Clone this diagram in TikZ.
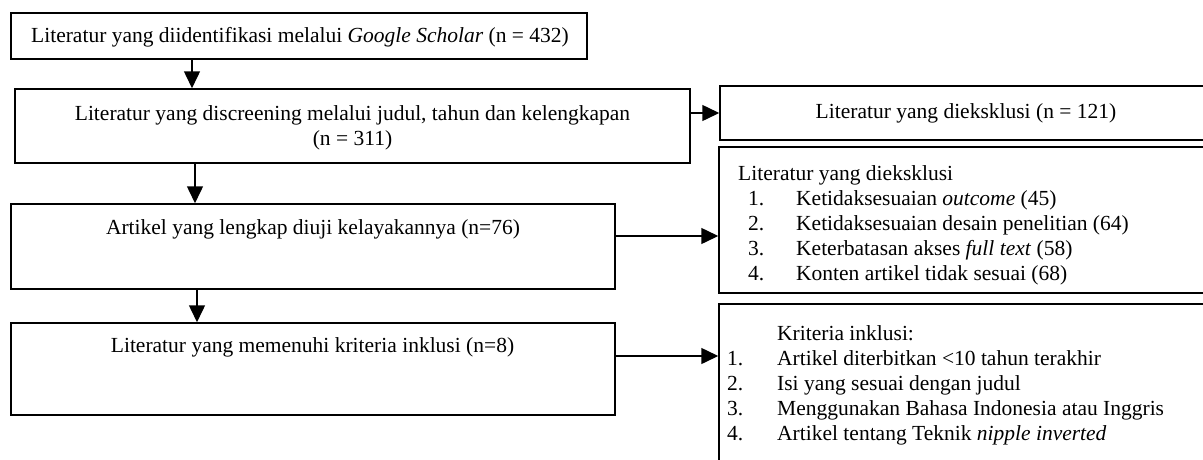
\documentclass[tikz,border=0pt]{standalone}
\usepackage{fontspec}
\setmainfont{Liberation Serif}
\usetikzlibrary{arrows.meta}
\tikzset{
  box/.style={draw, line width=1.5pt, inner sep=0pt},
  txt/.style={inner sep=0pt, align=center},
  lst/.style={inner sep=0pt, align=left, anchor=north west},
  arr/.style={-{Triangle[length=17pt,width=16pt]}, line width=1.5pt}
}
\begin{document}
\begin{tikzpicture}[x=1pt,y=-1pt,font=\fontsize{21.5}{25}\selectfont]
      \useasboundingbox (0,0) rectangle (1203,459);
      \clip (0,0) rectangle (1203,459);
      \draw
        (299,36) node[box, minimum width=576pt, minimum height=46pt] (id){}
        (352.5,126) node[box, minimum width=675pt, minimum height=74pt] (screen){}
        (313,246.5) node[box, minimum width=604pt, minimum height=85pt] (elig){}
        (313,369) node[box, minimum width=604pt, minimum height=92pt] (incl){}
        (966,113) node[box, minimum width=492pt, minimum height=54pt] (excla){}
        (965.5,220) node[box, minimum width=493pt, minimum height=146pt] (exclb){}
        (965.5,394) node[box, minimum width=493pt, minimum height=180pt] (crit){};
      \draw
        (300,37) node[txt] (idt){Literatur yang diidentifikasi melalui \textit{Google Scholar} (n = 432)}
        (352.5,127.5) node[txt] (screent){Literatur yang discreening melalui judul, tahun dan kelengkapan\\(n = 311)}
        (313,229.5) node[txt] (eligt){Artikel yang lengkap diuji kelayakannya (n=76)}
        (312.5,347) node[txt] (inclt){Literatur yang memenuhi kriteria inklusi (n=8)}
        (966,113) node[txt] (exclat){Literatur yang dieksklusi (n = 121)}
        (738,165) node[lst] (exclbt){Literatur yang dieksklusi\\
          \hspace*{10pt}\makebox[48pt][l]{1.}Ketidaksesuaian \textit{outcome} (45)\\
          \hspace*{10pt}\makebox[48pt][l]{2.}Ketidaksesuaian desain penelitian (64)\\
          \hspace*{10pt}\makebox[48pt][l]{3.}Keterbatasan akses \textit{full text} (58)\\
          \hspace*{10pt}\makebox[48pt][l]{4.}Konten artikel tidak sesuai (68)}
        (727,325) node[lst] (critt){\hspace*{50pt}Kriteria inklusi:\\
          \makebox[50pt][l]{1.}Artikel diterbitkan <10 tahun terakhir\\
          \makebox[50pt][l]{2.}Isi yang sesuai dengan judul\\
          \makebox[50pt][l]{3.}Menggunakan Bahasa Indonesia atau Inggris\\
          \makebox[50pt][l]{4.}Artikel tentang Teknik \textit{nipple inverted}};
      \coordinate (c1) at (192,0);
      \coordinate (c2) at (195,0);
      \coordinate (c3) at (197,0);
      \coordinate (r2) at (0,236);
      \coordinate (r3) at (0,356);
      \begin{scope}[arr]
        \draw (id.south -| c1) to (screen.north -| c1);
        \draw (screen.south -| c2) to (elig.north -| c2);
        \draw (elig.south -| c3) to (incl.north -| c3);
        \draw (screen.east |- excla) to (excla.west);
        \draw (elig.east |- r2) to (exclb.west |- r2);
        \draw (incl.east |- r3) to (crit.west |- r3);
      \end{scope}
    \end{tikzpicture}
\end{document}
